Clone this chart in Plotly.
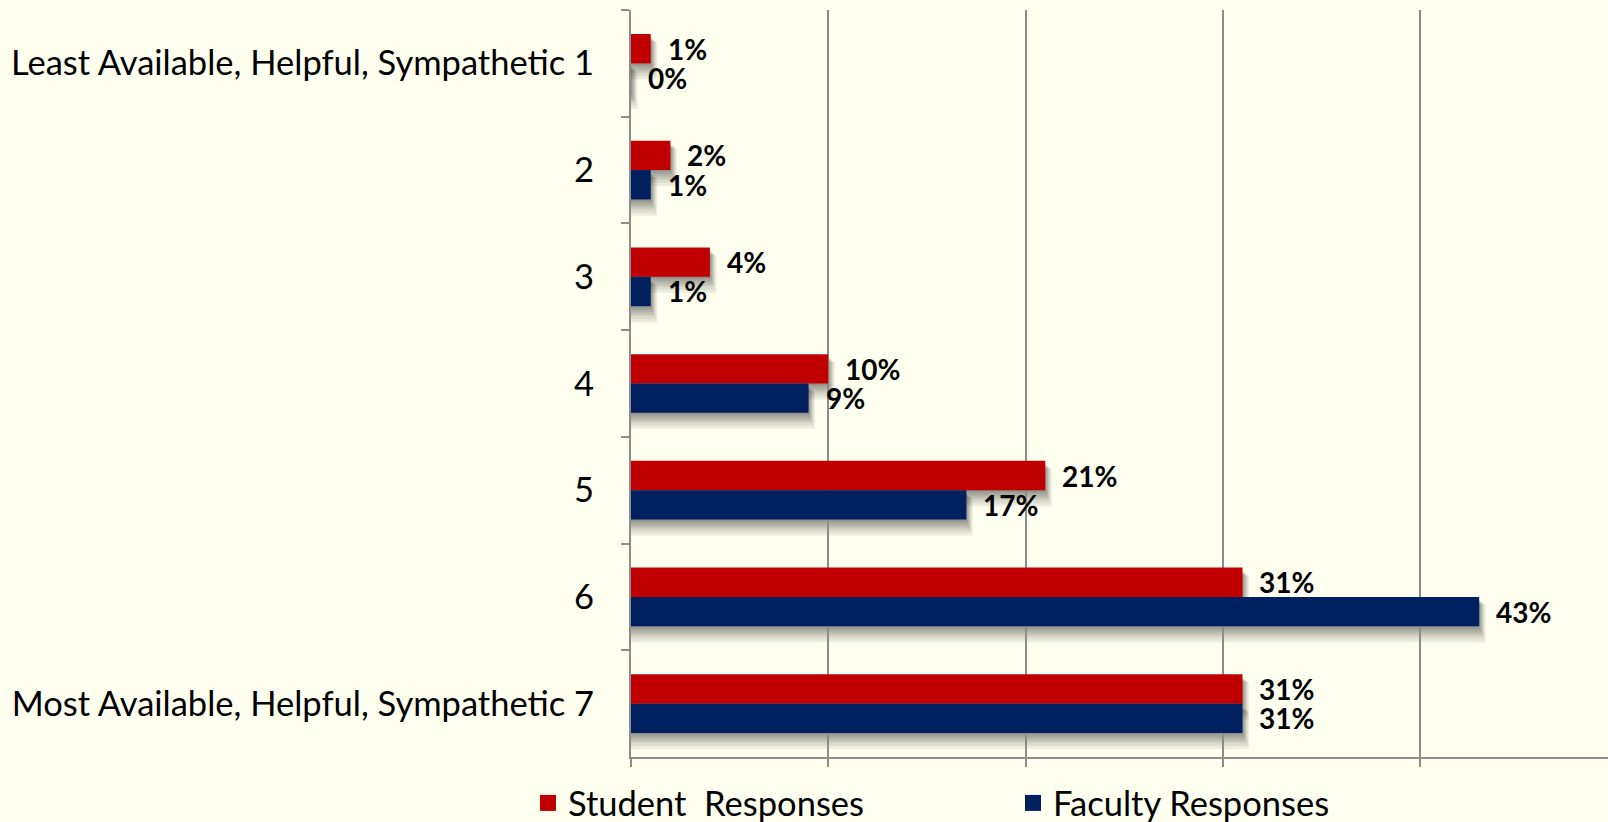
import plotly.graph_objects as go

# Survey ratings, shares in percent
categories = [
    "Least Available, Helpful, Sympathetic 1",
    "2", "3", "4", "5", "6",
    "Most Available, Helpful, Sympathetic 7",
]
student = [1, 2, 4, 10, 21, 31, 31]
faculty = [0, 1, 1, 9, 17, 43, 31]
series_names = ["Student  Responses", "Faculty Responses"]

RED = "#C00000"
NAVY = "#002060"
BG = "#FFFFF0"
GRID = "#8C8C8C"
FONT = "Lato"

W, H = 1608, 822
M_L, M_R, M_T, M_B = 631, 0, 10, 65
X_MAX = 49.53
PX_PER_X = (W - M_L - M_R) / X_MAX          # pixels per percent
PX_PER_Y = (H - M_T - M_B) / len(categories)  # pixels per category band

fig = go.Figure()

series = [(student, RED), (faculty, NAVY)]
bargap = 0.45
bar_h = (1 - bargap) / 2

# soft drop shadow under each bar: stacked translucent rectangles
for k, (vals, _) in enumerate(series):
    for i, v in enumerate(vals):
        top = i - bar_h + k * bar_h
        bot = top + bar_h
        for spread in [1, 2, 4, 6, 8, 10, 13, 16]:
            fig.add_shape(
                type="rect", xref="x", yref="y", layer="below",
                x0=0, x1=v + spread * 0.4 / PX_PER_X,
                y0=top + (3 + spread * 0.3) / PX_PER_Y, y1=bot + spread / PX_PER_Y,
                fillcolor="rgba(20,20,20,0.08)", line_width=0,
            )

for (vals, color), name in zip(series, series_names):
    fig.add_trace(go.Bar(
        y=categories, x=vals, orientation="h", name=name,
        marker=dict(color=color, line=dict(width=0)),
        showlegend=False, hoverinfo="x+y",
    ))
    # legend entry with a larger square swatch
    fig.add_trace(go.Scatter(
        x=[None], y=[None], mode="markers", name=name,
        marker=dict(symbol="square", size=16, color=color),
    ))

# value labels to the right of each bar
for k, (vals, _) in enumerate(series):
    for i, v in enumerate(vals):
        fig.add_annotation(
            x=v, y=i - bar_h / 2 + k * bar_h, xref="x", yref="y",
            text="%d%%" % v, showarrow=False, xanchor="left", yanchor="middle",
            xshift=15, font=dict(family=FONT, size=28, color="#000000", weight="bold"),
        )

fig.update_layout(
    width=W, height=H,
    paper_bgcolor=BG, plot_bgcolor=BG,
    margin=dict(l=M_L, r=M_R, t=M_T, b=M_B),
    barmode="group", bargap=bargap, bargroupgap=0,
    font=dict(family=FONT, color="#000000"),
    showlegend=True,
    legend=dict(
        orientation="h", xref="container", yref="container",
        x=528 / W, xanchor="left", y=1 - 803 / H, yanchor="middle",
        font=dict(family=FONT, size=34.5, color="#000000"),
        entrywidth=440, bgcolor="rgba(0,0,0,0)",
        itemclick=False, itemdoubleclick=False,
    ),
    xaxis=dict(
        range=[0, X_MAX], dtick=10, tick0=0,
        showgrid=True, gridcolor=GRID, gridwidth=1.5,
        zeroline=False, showline=True, linecolor=GRID, linewidth=2,
        ticks="outside", ticklen=8, tickcolor=GRID, tickwidth=1.5,
        showticklabels=False, fixedrange=True,
    ),
    yaxis=dict(
        autorange="reversed", categoryorder="array", categoryarray=categories,
        showgrid=False, zeroline=False,
        showline=True, linecolor=GRID, linewidth=2,
        ticks="outside", ticklen=8, tickcolor=GRID, tickwidth=1.5,
        tickson="boundaries", ticklabelstandoff=28,
        tickfont=dict(family=FONT, size=34.5, color="#000000"),
        fixedrange=True,
    ),
)

fig.write_html("out.html")
